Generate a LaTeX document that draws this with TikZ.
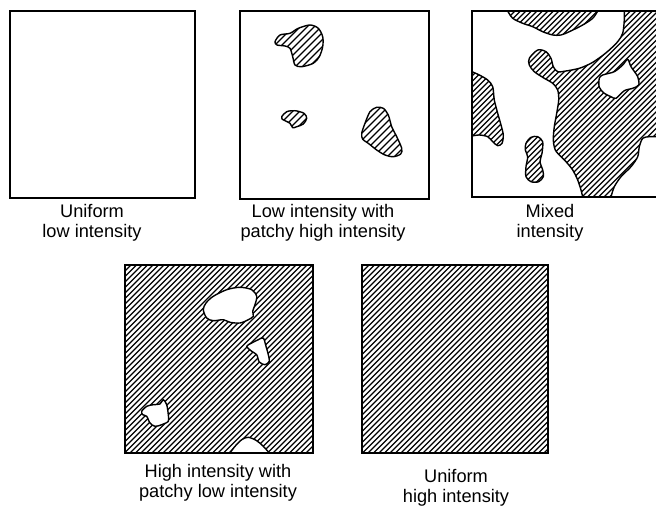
\documentclass[tikz,border=0pt]{standalone}
\usepackage{fontspec}
\setmainfont{Liberation Sans}
\newcommand\hatch[5]{% kmin, count, ybottom, height, step
  \foreach \i in {0,...,#2}{\pgfmathsetmacro\hk{#1+#5*\i}\draw[hatchline] (\hk,#3) -- ++(#4,-#4);}}
% box 2 blobs
\def\pBA{plot[smooth cycle] coordinates {(275,41.7) (280,35) (290,33.3) (298.3,28.3) (310,25) (318.3,28.3) (322.7,36.7) (322.7,46.7) (319.3,56.7) (313.3,63.3) (301.7,66.7) (295,65) (292.7,56.7) (290,48.3) (285,46) (277,45)}}
\def\pBB{plot[smooth cycle] coordinates {(281.7,116.7) (286.7,111.7) (295,110.7) (304,113.3) (306.7,118.3) (303.3,124) (296.7,126.7) (292.7,127.7) (290,123.3) (285,120.7) (282,119)}}
\def\pBC{plot[smooth cycle] coordinates {(361.7,133.3) (365,123.3) (370,111.7) (376.7,107.3) (383.3,108.3) (388.3,115) (391.7,126.7) (396.7,136.7) (401.7,148.3) (400.7,154) (393.3,156.7) (385,155) (376.7,150) (368.3,143.3) (362.7,139.3)}}
% box 3 regions
\def\pCtop{(507.7,11) -- plot[smooth] coordinates {(507.7,11) (512.7,18.3) (522.7,23.3) (532.7,26.7) (542.7,31.7) (552.7,35) (561,35) (569.3,31.7) (582.7,25) (592.7,18.3) (597.7,11)} -- cycle}
\def\pCleft{(472,71.7) -- plot[smooth] coordinates {(472,71.7) (479.3,75) (487.7,80) (492.7,86.7) (494.3,100) (497.7,113.3) (501,125) (503.3,135) (502,143.3) (497.7,145.7) (492.7,141.7) (487.7,136.7) (479.3,135) (472,136)} -- cycle}
\def\pCpea{plot[smooth cycle] coordinates {(526,143.3) (531,137.3) (537.7,136.7) (542.7,141.7) (542,153.3) (540,161.7) (542.7,170) (543.3,176.7) (538.7,181.7) (531,181.7) (526,176.7) (526,166.7) (527.7,156.7) (525.3,150)}}
\def\pCmain{(624.3,11) -- plot[smooth] coordinates {(624.3,11) (624.3,20) (622.7,33.3) (617.7,41.7) (609.3,50) (601,56.7) (591,63.3) (579.3,68.3) (566,71) (557.7,71.7) (553.3,66.7) (551,58.3) (546,51.7) (537.7,50) (529.3,58.3) (529.3,65) (534.3,71.7) (544.3,78.3) (552.7,83.3) (557.7,90) (558.7,100) (556.7,113.3) (554.3,126.7) (553.3,140) (555.3,150) (561,156.7) (566,161.7) (572.7,170) (577.7,180) (581,190) (582.7,197)} -- (611,197) -- plot[smooth] coordinates {(611,197) (614.3,186.7) (621,176.7) (631,166.7) (637.7,156.7) (639.3,146.7) (642.7,138.3) (649.3,136.7) (656,136.7) (662,136.7)} -- (662,11) -- cycle}
\def\pChole{plot[smooth cycle] coordinates {(599.3,78.3) (602.7,75) (614.3,71.7) (622.7,65) (627.7,59.3) (631,66.7) (637.7,76.7) (638.7,85) (632.7,88.3) (624.3,90.7) (616,98.3) (611,96.7) (604.3,93.3) (599.3,87.3)}}
% box 4 holes
\def\pDa{plot[smooth cycle] coordinates {(203.3,309.7) (206,303) (213.3,296.3) (226.7,289.7) (240,287.3) (251.7,289.7) (256.7,296.3) (255,304.7) (252.7,311.3) (253.3,316.3) (248.3,319.7) (240,323) (230,322.3) (223.3,319.7) (213.3,320.7) (206.7,318)}}
\def\pDb{plot[smooth cycle] coordinates {(246.7,346.3) (251.7,343) (258.3,339.7) (263.3,338) (266,346.3) (268.3,354.7) (269.3,361.3) (265,364.7) (259.3,362) (256.7,354.7) (251.7,351.3)}}
\def\pDc{plot[smooth cycle] coordinates {(141.7,411.3) (146.7,406.3) (153.3,404.7) (160,404) (163.3,399.7) (166.7,404.7) (168.3,414.7) (168.3,421.3) (161.7,424.7) (155,426.3) (150,423) (146.7,416.3) (142.7,414.7)}}
\def\pDd{(230,453) -- plot[smooth] coordinates {(230,453) (235,446.3) (241.7,439.7) (248.3,437.3) (256.7,440.7) (263.3,446.3) (269.3,453)} -- cycle}
\begin{document}
\begin{tikzpicture}[x=1pt,y=-1pt,
  frame/.style={line width=1.8pt},
  blob/.style={line width=1.4pt, line join=round},
  hatchline/.style={line width=1.4pt},
  lbl/.style={font=\fontsize{18.2}{20}\selectfont, align=center, anchor=base, inner sep=0pt}]
\useasboundingbox (0,0) rectangle (656,508);
\fill[white] (0,0) rectangle (656,508);

% ---- box 1
\draw[frame] (10,11) rectangle (195,198);

% ---- box 2
\foreach \p in {\pBA,\pBB,\pBC}{
  \begin{scope}\clip \p; \hatch{50}{56}{200}{190}{7}\end{scope}
  \draw[blob] \p;}
\draw[frame] (240,11) rectangle (429,199);

% ---- box 3
\foreach \p in {\pCtop,\pCleft,\pCpea,\pCmain}{
  \begin{scope}\clip \p; \hatch{282}{70}{200}{190}{5.5}\end{scope}
  \draw[blob] \p;}
\draw[blob, fill=white] \pChole;
\draw[frame] (662,11) -- (472,11) -- (472,197) -- (662,197);

% ---- box 4
\begin{scope}\clip (125,265) rectangle (312.7,453); \hatch{-70}{70}{455}{192}{5.5}\end{scope}
\foreach \p in {\pDa,\pDb,\pDc,\pDd}{\draw[blob, fill=white] \p;}
\draw[frame] (125,265) rectangle (312.7,453);

% ---- box 5
\begin{scope}\clip (362,265) rectangle (548,453); \hatch{168}{70}{455}{192}{5.5}\end{scope}
\draw[frame] (362,265) rectangle (548,453);

% ---- labels (anchor base = baseline of last line)
\node[lbl] (l1) at (92,237.5) {Uniform\\low intensity};
\node[lbl] (l2) at (323,237.5) {Low intensity with\\patchy high intensity};
\node[lbl] (l3) at (550,237.5) {Mixed\\intensity};
\node[lbl] (l4) at (218,497.3) {High intensity with\\patchy low intensity};
\node[lbl] (l5) at (456,502) {Uniform\\high intensity};
\end{tikzpicture}
\end{document}
